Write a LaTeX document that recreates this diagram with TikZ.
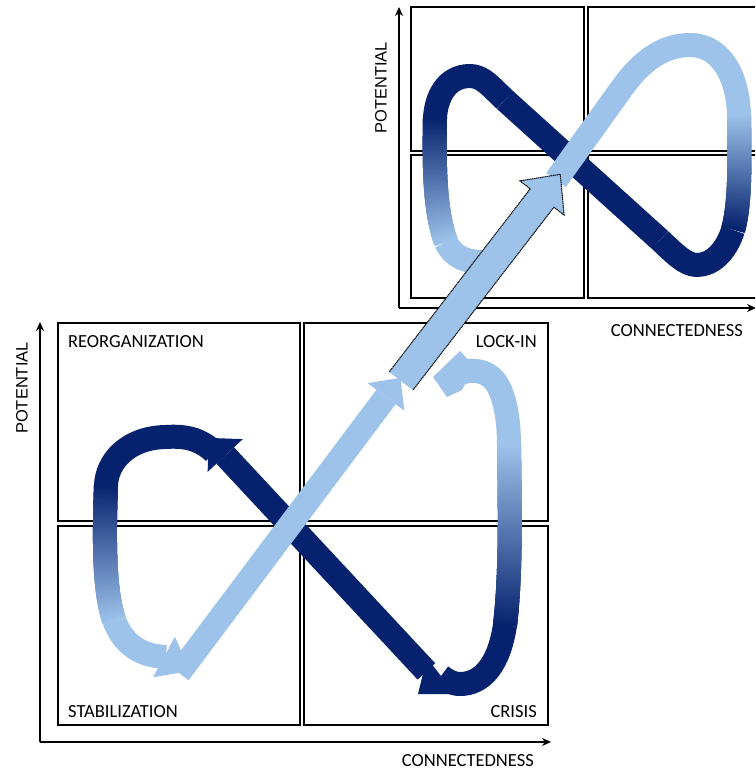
\documentclass[tikz,border=0pt]{standalone}
\usepackage{fontspec}
\setmainfont{Carlito}
\newfontfamily\arialf{Liberation Sans}
\usetikzlibrary{arrows.meta,decorations.markings,calc}
\definecolor{dk}{RGB}{6,34,110}
\definecolor{lt}{RGB}{157,195,235}
% band with colour changing along the path: #1 from, #2 to, #3 half width, #4 path
\newcommand\gradband[4]{%
  \path[decorate,decoration={markings,
    mark=between positions 0 and 1 step 0.5pt with {%
      \pgfmathtruncatemacro\gbpc{(\pgfkeysvalueof{/pgf/decoration/mark info/distance from start})/(\pgfdecoratedpathlength)*100}%
      \fill[#2!\gbpc!#1] (-0.8pt,-#3) rectangle (0.8pt,#3);}}] #4;}
% arrow head: #1 base centre, #2 tip, #3 half width, #4 colour
\newcommand\headat[4]{\fill[#4] ($(#1)!#3!90:(#2)$) -- (#2) -- ($(#1)!#3!-90:(#2)$) -- cycle;}
\begin{document}
\begin{tikzpicture}[x=1pt,y=-1pt,
  box/.style={draw=black,line width=1.2pt},
  axis/.style={draw=black,line width=1.8pt,-{Stealth[length=9pt,width=8pt]}},
  qlabel/.style={font=\fontsize{18.5}{20}\selectfont,inner sep=0pt},
  ylab/.style={font={\fontspec{Liberation Sans}\fontsize{16.5}{18}\selectfont},inner sep=0pt,rotate=90},
  band/.style={line width=24pt,line cap=butt,line join=round}]
\useasboundingbox (0,0) rectangle (755,770);
\clip (0,0) rectangle (755,770);
\fill[white] (0,0) rectangle (755,770);

% ---------------- bottom diagram: frame ----------------
\draw[box] (58,323) rectangle (300,521);
\draw[box] (304,323) rectangle (548,521);
\draw[box] (58,526) rectangle (300,725);
\draw[box] (304,526) rectangle (548,725);
\coordinate (o1) at (40,742);
\coordinate (y1) at (40,322);
\coordinate (x1) at (551,742);
\draw[axis] (o1) -- (y1);
\draw[axis] (o1) -- (x1);
\node[qlabel,anchor=base west] (reorg) at (68,347) {REORGANIZATION};
\node[qlabel,anchor=base east] (lockin) at (537,347) {LOCK-IN};
\node[qlabel,anchor=base west] (stab) at (68,717) {STABILIZATION};
\node[qlabel,anchor=base east] (crisis) at (537,717) {CRISIS};
\node[qlabel,anchor=base east] (xlab1) at (534,766) {CONNECTEDNESS};
\node[ylab] (ylab1) at (22,388) {POTENTIAL};

% ---------------- top diagram: frame ----------------
\draw[box] (411,7) rectangle (584,151);
\draw[box] (588,7) rectangle (780,151);
\draw[box] (411,155) rectangle (584,298);
\draw[box] (588,155) rectangle (780,298);
\coordinate (o2) at (399,308);
\coordinate (y2) at (399,7);
\coordinate (x2) at (756,308);
\draw[axis] (o2) -- (y2);
\draw[axis] (o2) -- (x2);
\node[qlabel,anchor=base east] (xlab2) at (743,336) {CONNECTEDNESS};
\node[ylab] (ylab2) at (381,88) {POTENTIAL};

% ---------------- bottom figure eight ----------------
% left loop: reorganization -> stabilization
\draw[band,dk] (214,452) .. controls (198,437) and (182,436) .. (165,437)
  .. controls (127,438) and (107,462) .. (106,485);
\gradband{dk}{lt}{12pt}{(106,485) .. controls (104,540) and (104,590) .. (114,620)}
\draw[band,lt] (114,620) .. controls (124,646) and (142,656) .. (166,657);
\headat{164,657}{190,671}{23pt}{lt}
% right loop: lock-in -> crisis
\draw[band,lt] (446,382) .. controls (462,368) and (482,367) .. (494,380)
  .. controls (505,393) and (509,420) .. (509,445);
\gradband{lt}{dk}{12pt}{(509,445) .. controls (510,510) and (511,575) .. (505,625)}
\draw[band,dk] (505,625) .. controls (499,665) and (482,684) .. (460,684)
  .. controls (452,684) and (446,680) .. (441,676);
\fill[lt] (433,377) -- (460,351) -- (474,366) -- (462,390) -- (447,397) -- (438,384) -- cycle;
% crisis -> reorganization
\coordinate (dd0) at (426.4,671.4);
\coordinate (dd1) at (225.2,455.5);
\coordinate (dd2) at (208.8,437.9);
\draw[band,dk] (dd0) -- (dd1);
\headat{dd1}{dd2}{24pt}{dk}
\headat{441,676}{418,694}{23pt}{dk}
% stabilization -> lock-in
\coordinate (ld0) at (179,673);
\coordinate (ld1) at (386,397);
\coordinate (ld2) at (400.4,377.8);
\draw[band,lt] (ld0) -- (ld1);
\headat{ld1}{ld2}{23pt}{lt}

% ---------------- top figure eight ----------------
\coordinate (td0) at (660,240);
\coordinate (td1) at (505,100);
\draw[band,dk] (td0) -- (td1);
% top-left loop
\draw[band,dk] (td1) .. controls (491,87) and (483,76) .. (470,76)
  .. controls (446,76) and (436,98) .. (435,118);
\gradband{dk}{lt}{12pt}{(435,118) .. controls (434,170) and (435,212) .. (446,242)}
\draw[band,lt] (446,242) .. controls (453,257) and (466,263) .. (488,262);
% top-right loop
\draw[band,dk] (733,230) .. controls (726,252) and (712,265) .. (697,265)
  .. controls (685,265) and (674,253) .. (td0);
\gradband{lt}{dk}{12pt}{(739,115) .. controls (740,165) and (740,205) .. (733,230)}
\draw[band,lt] (556,180) -- (622,88) .. controls (642,60) and (664,45) .. (690,45)
  .. controls (722,45) and (738,78) .. (739,115);

% ---------------- big arrow between the diagrams ----------------
\coordinate (b1) at (389.2,371.9);
\coordinate (b2) at (530.2,188.9);
\coordinate (b3) at (519.9,180.9);
\coordinate (b4) at (560.3,174.3);
\coordinate (b5) at (564.1,215.1);
\coordinate (b6) at (553.9,207.2);
\coordinate (b7) at (412.9,390.2);
\fill[lt] (b1) -- (b2) -- (b3) -- (b4) -- (b5) -- (b6) -- (b7) -- cycle;
\draw[black,line width=1pt,dash pattern=on 1.3pt off 0.6pt,line join=miter]
  (b1) -- (b2) -- (b3) -- (b4) -- (b5) -- (b6) -- (b7);
\end{tikzpicture}
\end{document}
